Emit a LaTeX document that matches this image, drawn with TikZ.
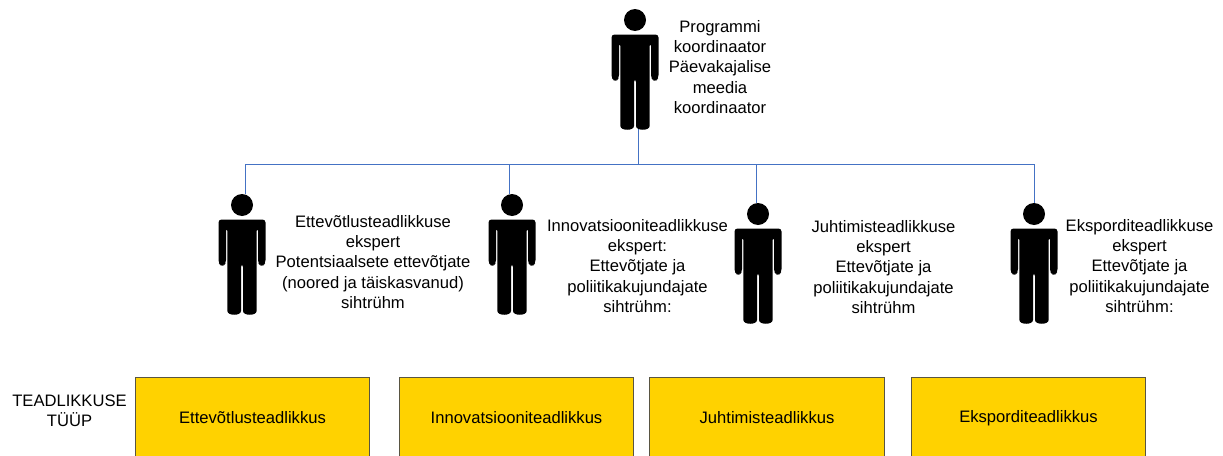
\documentclass[tikz,border=0pt]{standalone}
\usepackage{fontspec}
\setmainfont{Liberation Sans}
\tikzset{
  person part/.style={fill=black,draw=none},
  link/.style={draw=linkblue,line width=0.9pt},
  caption/.style={align=center,inner sep=0pt,font=\fontsize{16.6}{20.1}\selectfont},
  typebox/.style={draw=black!75!yellow,line width=0.8pt,fill=boxgold,minimum width=234.6pt,minimum height=82pt,inner sep=0pt,font=\fontsize{16.6}{20.1}\selectfont},
  pics/person/.style={code={
    \fill[person part] (0,11) circle (11);
    \fill[person part,rounded corners=3pt]
      (-23.5,25.5) -- (23.5,25.5) -- (23.5,69) -- (21,71.5) -- (18.5,71.5) -- (16,69) -- (16,34) -- (14.6,34)
      -- (14.6,114) .. controls (14.6,122) and (1,122) .. (1,114) -- (1,70) -- (-1,70) -- (-1,114)
      .. controls (-1,122) and (-14.6,122) .. (-14.6,114) -- (-14.6,34) -- (-16,34) -- (-16,69) -- (-18.5,71.5) -- (-21,71.5) -- (-23.5,69) -- cycle;
  }}
}
\definecolor{linkblue}{HTML}{4472C4}
\definecolor{boxgold}{HTML}{FFD200}
\begin{document}
\begin{tikzpicture}[x=1pt,y=-1pt]
\clip (0,0) rectangle (1223,455);
\fill[white] (0,0) rectangle (1223,455);
% connectors
\coordinate (top) at (638,129);
\coordinate (bus) at (638,164);
\coordinate (p1) at (245,194);
\coordinate (p2) at (509.5,194);
\coordinate (p3) at (756,203);
\coordinate (p4) at (1034,203);
\draw[link] (top) -- (bus);
\draw[link] (p1) |- (bus);
\draw[link] (p2) |- (bus);
\draw[link] (p3) |- (bus);
\draw[link] (p4) |- (bus);
% people
\pic at (635,9) {person};
\pic at (242,194) {person};
\pic at (512,194) {person};
\pic at (758,203) {person};
\pic at (1034,203) {person};
% captions
\node[caption] (t0) at (720,67) {Programmi\\koordinaator\\Päevakajalise\\meedia\\koordinaator};
\node[caption] (t1) at (373,262) {Ettevõtlusteadlikkuse\\ekspert\\Potentsiaalsete ettevõtjate\\(noored ja täiskasvanud)\\sihtrühm};
\node[caption] (t2) at (637.5,266) {Innovatsiooniteadlikkuse\\ekspert:\\Ettevõtjate ja\\poliitikakujundajate\\sihtrühm:};
\node[caption] (t3) at (883.5,267) {Juhtimisteadlikkuse\\ekspert\\Ettevõtjate ja\\poliitikakujundajate\\sihtrühm};
\node[caption] (t4) at (1139.5,266) {Eksporditeadlikkuse\\ekspert\\Ettevõtjate ja\\poliitikakujundajate\\sihtrühm:};
\node[caption] (tt) at (69.5,411) {TEADLIKKUSE\\TÜÜP};
% boxes
\node[typebox] (b1) at (252.5,418) {Ettevõtlusteadlikkus};
\node[typebox] (b2) at (516.5,418) {Innovatsiooniteadlikkus};
\node[typebox] (b3) at (767,418) {Juhtimisteadlikkus};
\node[typebox] (b4) at (1028.5,418) {Eksporditeadlikkus};
\end{tikzpicture}
\end{document}
